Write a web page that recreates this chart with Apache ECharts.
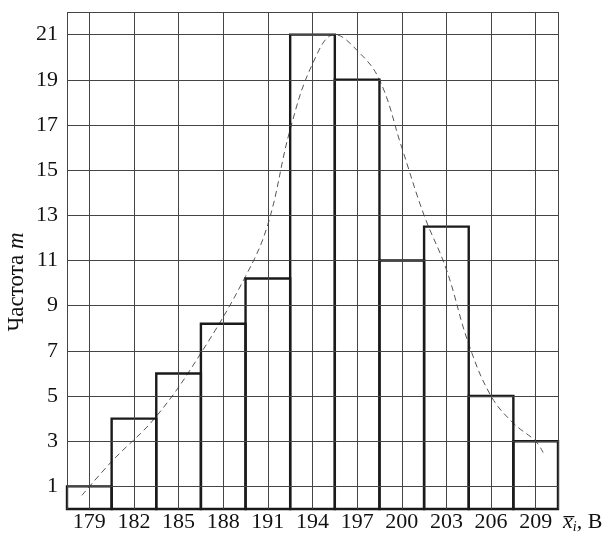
<!DOCTYPE html>
<html>
<head>
<meta charset="utf-8">
<script src="https://cdn.jsdelivr.net/npm/echarts@6/dist/echarts.min.js"></script>
<style>
html,body{margin:0;padding:0;background:#fff}
#chart{width:611px;height:540px}
</style>
</head>
<body>
<div id="chart"></div>
<script>
// середины интервалов и частоты
var binCenters = [179, 182, 185, 188, 191, 194, 197, 200, 203, 206, 209];
var freq = [1, 4, 6, 8.2, 10.2, 21, 19, 11, 12.5, 5, 3];
// пунктирная кривая
var curveX = [178.5, 180.5, 183.5, 186.5, 189.5, 191, 192.5, 194, 195.5, 197, 198.5, 200, 201.5, 203, 204.5, 206, 207.5, 209, 209.5];
var curveY = [0.6, 2.1, 4.1, 6.9, 10.3, 12.6, 16.8, 19.7, 21, 20.3, 19, 16, 13, 10.6, 7.3, 5, 3.8, 3, 2.5];
var yTicks = [1, 3, 5, 7, 9, 11, 13, 15, 17, 19, 21];
var yTop = 22;

var binW = binCenters[1] - binCenters[0];
var xMin = binCenters[0] - binW / 2;
var xMax = binCenters[binCenters.length - 1] + binW / 2;

var font = '"Liberation Serif", "DejaVu Serif", serif';

// сетка: рамка и середины интервалов
var gridLines = [{xAxis: xMin}, {xAxis: xMax}];
for (var i = 0; i < binCenters.length; i++) {
	gridLines.push({xAxis: binCenters[i]});
}
for (var j = 0; j < yTicks.length; j++) {
	gridLines.push({yAxis: yTicks[j]});
}
gridLines.push({yAxis: yTop});

var curve = [];
for (var k = 0; k < curveX.length; k++) {
	curve.push([curveX[k], curveY[k]]);
}
var bars = [];
for (var b = 0; b < binCenters.length; b++) {
	bars.push([binCenters[b], freq[b]]);
}

var chart = echarts.init(document.getElementById('chart'));
chart.setOption({
	animation: false,
	grid: {left: 67, right: 53, top: 12, bottom: 31},
	xAxis: {
		type: 'value',
		min: xMin,
		max: xMax,
		splitLine: {show: false},
		axisTick: {show: false},
		axisLine: {lineStyle: {color: '#222', width: 1.5}},
		axisLabel: {
			customValues: binCenters,
			color: '#111',
			fontFamily: font,
			fontSize: 22,
			margin: 2
		}
	},
	yAxis: {
		type: 'value',
		min: 0,
		max: yTop,
		interval: 1,
		splitLine: {show: false},
		axisTick: {show: false},
		axisLine: {show: false},
		axisLabel: {
			color: '#111',
			fontFamily: font,
			fontSize: 22,
			margin: 9,
			formatter: function (v) {
				return yTicks.indexOf(v) >= 0 ? String(v) : '';
			}
		}
	},
	graphic: [
		{
			type: 'text',
			x: 17,
			y: 282,
			rotation: Math.PI / 2,
			style: {
				text: '{a|Частота }{m|m}',
				align: 'center',
				verticalAlign: 'middle',
				rich: {
					a: {fontFamily: font, fontSize: 23, fill: '#111'},
					m: {fontFamily: font, fontSize: 23, fontStyle: 'italic', fill: '#111'}
				}
			}
		},
		{
			type: 'text',
			x: 563,
			y: 522,
			style: {
				text: '{x|x\u0305}{i|i}{t|, В}',
				align: 'left',
				verticalAlign: 'middle',
				rich: {
					x: {fontFamily: font, fontSize: 22, fontStyle: 'italic', fill: '#111'},
					i: {fontFamily: font, fontSize: 14, fontStyle: 'italic', fill: '#111', padding: [10, 0, 0, 0]},
					t: {fontFamily: font, fontSize: 22, fill: '#111'}
				}
			}
		}
	],
	series: [
		{
			type: 'line',
			data: curve,
			smooth: 0.4,
			symbol: 'none',
			z: 3,
			lineStyle: {color: '#555', width: 1, type: [6, 4]},
			markLine: {
				silent: true,
				symbol: 'none',
				label: {show: false},
				lineStyle: {color: '#444', width: 1, type: 'solid'},
				data: gridLines
			}
		},
		{
			type: 'custom',
			z: 4,
			data: bars,
			renderItem: function (params, api) {
				var c = api.value(0);
				var h = api.value(1);
				var p1 = api.coord([c - binW / 2, h]);
				var p2 = api.coord([c + binW / 2, 0]);
				return {
					type: 'rect',
					shape: {x: p1[0], y: p1[1], width: p2[0] - p1[0], height: p2[1] - p1[1]},
					style: {fill: 'none', stroke: '#1a1a1a', lineWidth: 2.4}
				};
			}
		}
	]
});
</script>
</body>
</html>
